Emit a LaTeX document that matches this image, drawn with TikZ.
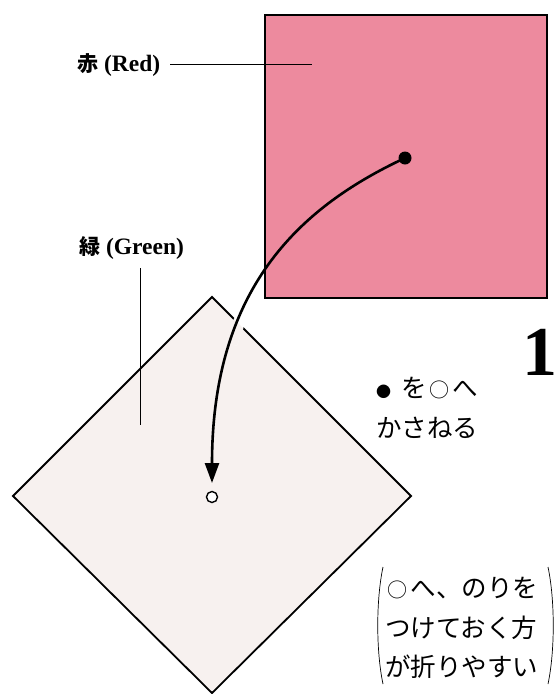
\documentclass[tikz,border=0pt]{standalone}
\usepackage{fontspec}
\setmainfont{Liberation Serif}
\newfontfamily\jp{Noto Sans CJK JP}
\usetikzlibrary{arrows.meta}
\definecolor{redpaper}{RGB}{237,138,158}
\definecolor{greenpaper}{RGB}{247,241,239}
\newcommand\mybul{\makebox[25.5pt][l]{\fontsize{15}{15}\selectfont ●}}
\newcommand\myring{\makebox[25.5pt]{\fontsize{20}{20}\selectfont ○}}
\begin{document}
\begin{tikzpicture}[x=1pt,y=-1pt,
  lab/.style={font=\fontsize{23.5}{28}\selectfont\bfseries, inner sep=0pt, anchor=west},
  jtext/.style={font=\jp\fontsize{25.5}{30}\selectfont, inner sep=0pt, anchor=west},
  paper/.style={draw=black, line width=1.8pt, line join=miter},
  leader/.style={line width=0.8pt},
  paren/.style={line width=0.7pt},
  foldarrow/.style={line width=2.6pt, -{Triangle[length=20pt,width=14pt]}},
  ]
\path[use as bounding box] (0,0) rectangle (557,694);
% green paper (diamond)
\filldraw[fill=greenpaper, paper] (212,297) -- (411,496) -- (212,693) -- (13,496) -- cycle;
% leader of green label
\node[lab] (green) at (79,248) {{\jp\fontsize{21}{24}\selectfont 緑} (Green)};
\coordinate (gtop) at (140,268);
\coordinate (gend) at (140,425);
\draw[leader] (gtop) -- (gend);
% points
\node[circle, fill=black, inner sep=0pt, minimum size=13pt] (dot) at (405,158) {};
\node[circle, draw=black, fill=white, line width=1.4pt, inner sep=0pt, minimum size=11pt] (hole) at (212,497) {};
\coordinate (tip) at (212,483);
% halo where the arrow crosses the diamond edge
\begin{scope}
  \clip (240,324) circle (22);
  \draw[white, line width=12pt] (dot.center) .. controls (305.5,204.6) and (212,283) .. (tip);
  \clip (212,297) -- (411,496) -- (212,693) -- (13,496) -- cycle;
  \draw[greenpaper, line width=12pt] (dot.center) .. controls (305.5,204.6) and (212,283) .. (tip);
\end{scope}
% red paper
\filldraw[fill=redpaper, paper] (265,15) rectangle (547,298);
\node[circle, fill=black, inner sep=0pt, minimum size=13pt] (dot2) at (dot) {};
% red label
\node[lab] (red) at (77,65) {{\jp\fontsize{21}{24}\selectfont 赤} (Red)};
\coordinate (rstart) at (170,64);
\coordinate (rend) at (312,64);
\draw[leader] (rstart) -- (rend);
% arrow
\draw[foldarrow] (dot.center) .. controls (305.5,204.6) and (212,283) .. (tip);
% step number
\node[font=\fontsize{70}{70}\selectfont\bfseries, inner sep=0pt] (step1) at (540,352) {1};
% instruction
\node[jtext] (j1) at (376,388) {\mybul を\myring へ};
\node[jtext] (j2) at (376,428) {かさねる};
% note
\node[jtext] (n1) at (385,588) {\myring へ、のりを};
\node[jtext] (n2) at (385,628) {つけておく方};
\node[jtext] (n3) at (385,667) {が折りやすい};
\draw[paren] (383,567) .. controls (376,600) and (376,651) .. (383,684);
\draw[paren] (548,567) .. controls (555,600) and (555,651) .. (548,684);
\end{tikzpicture}
\end{document}
